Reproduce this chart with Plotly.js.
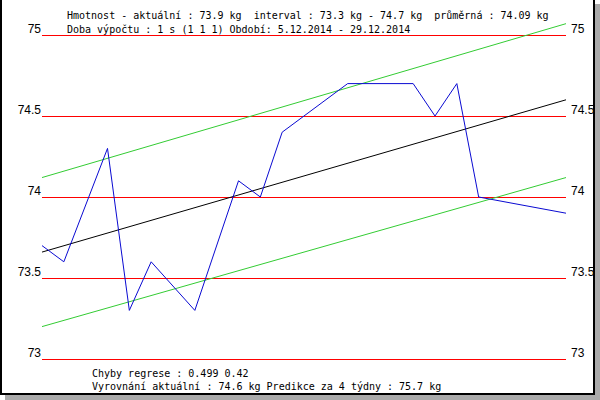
<!DOCTYPE html>
<html>
<head>
<meta charset="utf-8">
<script src="https://cdn.plot.ly/plotly-3.0.1.min.js"></script>
<style>
  html, body { margin: 0; padding: 0; background: #ffffff; }
  #wrap { position: relative; width: 600px; height: 400px; overflow: hidden; }
  #chart { position: absolute; left: 0; top: 0; width: 600px; height: 400px; }
  .bar { position: absolute; }
</style>
</head>
<body>
<div id="wrap">
  <div id="chart"></div>
  <div class="bar" style="left:0;top:0;width:2px;height:395px;background:#000;"></div>
  <div class="bar" style="left:593px;top:0;width:2px;height:395px;background:#000;"></div>
  <div class="bar" style="left:0;top:393px;width:595px;height:2px;background:#000;"></div>
  <div class="bar" style="left:595px;top:4px;width:5px;height:396px;background:#aaaaaa;"></div>
  <div class="bar" style="left:5px;top:395px;width:595px;height:5px;background:#aaaaaa;"></div>
</div>
<script>
// ---- data ----
const dates = ['2014-12-05','2014-12-06','2014-12-08','2014-12-09','2014-12-10',
               '2014-12-12','2014-12-14','2014-12-15','2014-12-16','2014-12-19',
               '2014-12-22','2014-12-23','2014-12-24','2014-12-25','2014-12-29'];
const weights = [73.7, 73.6, 74.3, 73.3, 73.6, 73.3, 74.1, 74.0, 74.4, 74.7, 74.7, 74.5, 74.7, 74.0, 73.9];

const trendDates = ['2014-12-05', '2014-12-29'];
const trendValues = [73.66, 74.60];
const upperValues = [74.12, 75.07];
const lowerValues = [73.20, 74.12];

const tickValues = [73, 73.5, 74, 74.5, 75];
const tickLabels = ['73', '73.5', '74', '74.5', '75'];

const headerLines = [
  'Hmotnost - aktuální : 73.9 kg  interval : 73.3 kg - 74.7 kg  průměrná : 74.09 kg',
  'Doba výpočtu : 1 s (1 1 1) Období: 5.12.2014 - 29.12.2014'
];
const footerLines = [
  'Chyby regrese : 0.499 0.42',
  'Vyrovnání aktuální : 74.6 kg Predikce za 4 týdny : 75.7 kg'
];

// ---- layout geometry (pixels) ----
const W = 600, H = 400;
const L = 42, R = 566, T = 20, B = 362;
const pxPerKg = 162;          // 0.5 kg = 81 px
const y75px = 35;
const yTop = 75 + (y75px - T) / pxPerKg;
const yBot = 73 - (B - (y75px + 2 * pxPerKg)) / pxPerKg;

function px(x) { return (x - L) / (R - L); }
function py(y) { return (B - y) / (B - T); }

const monoFont = { family: 'DejaVu Sans Mono', size: 10, color: '#000000' };

const traces = [
  { x: trendDates, y: upperValues, type: 'scatter', mode: 'lines',
    line: { color: '#33cc33', width: 1 }, hoverinfo: 'skip' },
  { x: trendDates, y: lowerValues, type: 'scatter', mode: 'lines',
    line: { color: '#33cc33', width: 1 }, hoverinfo: 'skip' },
  { x: trendDates, y: trendValues, type: 'scatter', mode: 'lines',
    line: { color: '#000000', width: 1 }, hoverinfo: 'skip' },
  { x: dates, y: weights, type: 'scatter', mode: 'lines',
    line: { color: '#0a0ad2', width: 1 }, hoverinfo: 'skip' },
  { x: trendDates, y: trendValues, type: 'scatter', mode: 'lines', yaxis: 'y2',
    line: { color: 'rgba(0,0,0,0)', width: 0 }, hoverinfo: 'skip' }
];

const annotations = [];
headerLines.forEach((t, i) => {
  annotations.push({ text: t, xref: 'paper', yref: 'paper', x: px(66), y: py([15.5, 29.5][i]),
    xanchor: 'left', yanchor: 'middle', showarrow: false, font: monoFont, borderpad: 0 });
});
footerLines.forEach((t, i) => {
  annotations.push({ text: t, xref: 'paper', yref: 'paper', x: px(91), y: py([373, 386][i]),
    xanchor: 'left', yanchor: 'middle', showarrow: false, font: monoFont, borderpad: 0 });
});

const axisCommon = {
  range: [yBot, yTop], tickmode: 'array', tickvals: tickValues, ticktext: tickLabels,
  ticks: '', showline: false, zeroline: false, fixedrange: true,
  tickfont: { family: 'Liberation Sans', size: 12, color: '#000000' },
  ticklabelshift: -6
};

const layout = {
  width: W, height: H,
  margin: { l: L, r: W - R, t: T, b: H - B, pad: 0 },
  paper_bgcolor: '#ffffff', plot_bgcolor: '#ffffff',
  showlegend: false,
  xaxis: { type: 'date', range: ['2014-12-05', '2014-12-29'], visible: false, fixedrange: true },
  yaxis: Object.assign({}, axisCommon, { side: 'left', showgrid: true, gridcolor: '#ff0000', gridwidth: 1 }),
  yaxis2: Object.assign({}, axisCommon, { side: 'right', overlaying: 'y', showgrid: false, ticklabelstandoff: 4 }),
  annotations: annotations
};

Plotly.newPlot('chart', traces, layout, { displayModeBar: false, staticPlot: true });
</script>
</body>
</html>
